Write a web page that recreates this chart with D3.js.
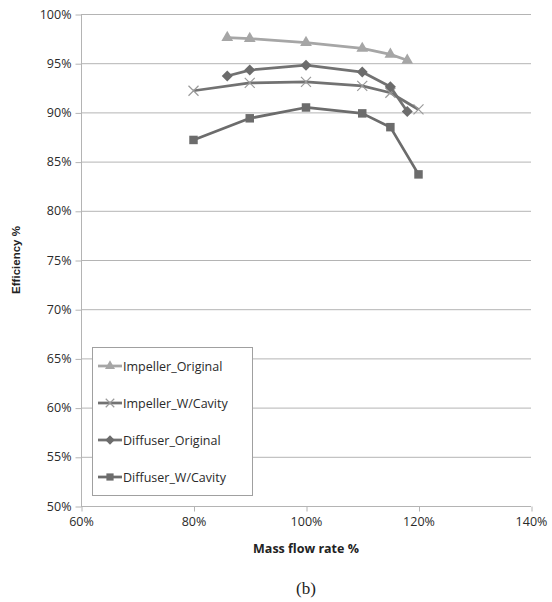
<!DOCTYPE html>
<html>
<head>
<meta charset="utf-8">
<script src="https://cdn.jsdelivr.net/npm/d3@7"></script>
<style>
  html, body { margin: 0; padding: 0; background: #fff; }
  svg { display: block; }
</style>
</head>
<body>
<svg id="chart" width="552" height="602"></svg>
<script>
// Mass flow rate (%) and efficiency (%) for each component configuration
const impellerOriginalX = [86, 90, 100, 110, 115, 118];
const impellerOriginalY = [97.6, 97.5, 97.1, 96.5, 95.9, 95.3];

const impellerCavityX = [80, 90, 100, 110, 115, 120];
const impellerCavityY = [92.2, 93.0, 93.1, 92.7, 92.0, 90.3];

const diffuserOriginalX = [86, 90, 100, 110, 115, 118];
const diffuserOriginalY = [93.7, 94.3, 94.8, 94.1, 92.6, 90.1];

const diffuserCavityX = [80, 90, 100, 110, 115, 120];
const diffuserCavityY = [87.2, 89.4, 90.5, 89.9, 88.5, 83.7];

const seriesNames = ["Impeller_Original", "Impeller_W/Cavity", "Diffuser_Original", "Diffuser_W/Cavity"];
const xTicks = [60, 80, 100, 120, 140];
const yTicks = [50, 55, 60, 65, 70, 75, 80, 85, 90, 95, 100];

const series = [
  { name: seriesNames[0], xs: impellerOriginalX, ys: impellerOriginalY, color: "#a6a6a6", mark: "triangle", markColor: "#a6a6a6" },
  { name: seriesNames[1], xs: impellerCavityX, ys: impellerCavityY, color: "#727272", mark: "cross", markColor: "#9a9a9a" },
  { name: seriesNames[2], xs: diffuserOriginalX, ys: diffuserOriginalY, color: "#727272", mark: "diamond", markColor: "#6c6c6c" },
  { name: seriesNames[3], xs: diffuserCavityX, ys: diffuserCavityY, color: "#6c6c6c", mark: "square", markColor: "#6c6c6c" }
];

const svg = d3.select("#chart");
const plotLeft = 81, plotRight = 531, plotTop = 14, plotBottom = 506;

const x = d3.scaleLinear().domain([60, 140]).range([plotLeft, plotRight]);
const y = d3.scaleLinear().domain([50, 100]).range([plotBottom, plotTop]);

const tickFont = "'Open Sans', 'Noto Sans', sans-serif";

// Horizontal gridlines
svg.append("g")
  .selectAll("line")
  .data(yTicks.filter(t => t > 50))
  .join("line")
  .attr("x1", plotLeft).attr("x2", plotRight)
  .attr("y1", d => y(d) + 0.5).attr("y2", d => y(d) + 0.5)
  .attr("stroke", "#b4b4b4").attr("stroke-width", 1);

// Y axis
const yAxis = svg.append("g")
  .attr("transform", `translate(${plotLeft + 0.5},0)`)
  .call(d3.axisLeft(y).tickValues(yTicks).tickSize(6).tickPadding(4).tickFormat(d => d + "%"));
yAxis.select(".domain").attr("stroke", "#b4b4b4").attr("d", `M0,${plotTop}V${plotBottom}`);
yAxis.selectAll(".tick line").attr("stroke", "#b4b4b4").attr("transform", "translate(0,0.5)");
yAxis.selectAll(".tick text")
  .attr("font-family", tickFont).attr("font-size", 12.5).attr("fill", "#2a2a2a");

// X axis
const xAxis = svg.append("g")
  .attr("transform", `translate(0,${plotBottom + 0.5})`)
  .call(d3.axisBottom(x).tickValues(xTicks).tickSize(5).tickPadding(6).tickFormat(d => d + "%"));
xAxis.select(".domain").attr("stroke", "#b4b4b4").attr("d", `M${plotLeft},0H${plotRight}`);
xAxis.selectAll(".tick line").attr("stroke", "#b4b4b4").attr("transform", "translate(0.5,0)");
xAxis.selectAll(".tick text")
  .attr("font-family", tickFont).attr("font-size", 12.5).attr("fill", "#2a2a2a");

// Axis titles
svg.append("text")
  .attr("x", x(100)).attr("y", 553)
  .attr("text-anchor", "middle")
  .attr("font-family", tickFont).attr("font-weight", "bold").attr("font-size", 12.5)
  .attr("fill", "#222")
  .text("Mass flow rate %");

svg.append("text")
  .attr("transform", `translate(20,${(plotTop + plotBottom) / 2}) rotate(-90)`)
  .attr("text-anchor", "middle")
  .attr("font-family", "'Liberation Sans', Arial, sans-serif").attr("font-weight", "bold").attr("font-size", 11.5)
  .attr("fill", "#222")
  .text("Efficiency %");

// Caption
svg.append("text")
  .attr("x", x(100)).attr("y", 594)
  .attr("text-anchor", "middle")
  .attr("font-family", "'Liberation Serif', 'DejaVu Serif', serif").attr("font-size", 17)
  .attr("fill", "#222")
  .text("(b)");

// Marker drawing
function drawMarker(g, type, cx, cy, color, k = 1) {
  if (type === "triangle") {
    g.append("path").attr("d", d3.symbol(d3.symbolTriangle, 60 * k * k)()).attr("transform", `translate(${cx},${cy})`).attr("fill", color);
  } else if (type === "diamond") {
    const r = 5.5 * k;
    g.append("path").attr("d", `M${cx},${cy - r}L${cx + r},${cy}L${cx},${cy + r}L${cx - r},${cy}Z`).attr("fill", color);
  } else if (type === "square") {
    g.append("path").attr("d", d3.symbol(d3.symbolSquare, 72 * k * k)()).attr("transform", `translate(${cx},${cy})`).attr("fill", color);
  } else if (type === "cross") {
    const s = 5 * k;
    g.append("path").attr("d", `M${cx - s},${cy - s}L${cx + s},${cy + s}M${cx - s},${cy + s}L${cx + s},${cy - s}`)
      .attr("stroke", color).attr("stroke-width", 1.2).attr("fill", "none");
  }
}

const line = d3.line().x(d => x(d[0])).y(d => y(d[1]));

// Series lines and markers
series.forEach(s => {
  const pts = s.xs.map((v, i) => [v, s.ys[i]]);
  const g = svg.append("g");
  g.append("path").datum(pts).attr("d", line)
    .attr("fill", "none").attr("stroke", s.color).attr("stroke-width", 2.75).attr("stroke-linejoin", "round");
  pts.forEach(p => drawMarker(g, s.mark, x(p[0]), y(p[1]), s.markColor));
});

// Legend
const lg = svg.append("g");
lg.append("rect").attr("x", 92.5).attr("y", 347.5).attr("width", 160).attr("height", 148)
  .attr("fill", "#fff").attr("stroke", "#a0a0a0").attr("stroke-width", 1);
series.forEach((s, i) => {
  const cy = 366 + i * 37;
  lg.append("line").attr("x1", 98).attr("x2", 122).attr("y1", cy).attr("y2", cy)
    .attr("stroke", s.color).attr("stroke-width", 2.75);
  drawMarker(lg, s.mark, 110, cy, s.markColor, 0.85);
  lg.append("text").attr("x", 123).attr("y", cy + 4.5)
    .attr("font-family", tickFont).attr("font-size", 12.5).attr("fill", "#2a2a2a")
    .text(s.name);
});
</script>
</body>
</html>
